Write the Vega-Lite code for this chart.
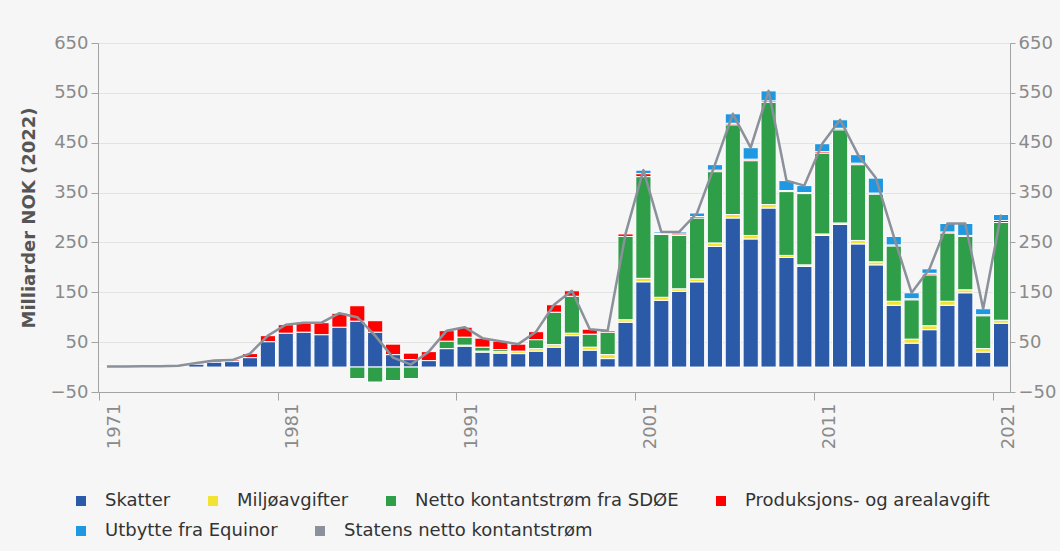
{
  "$schema": "https://vega.github.io/schema/vega-lite/v6.json",
  "width": 912,
  "height": 349,
  "autosize": {"type": "none"},
  "padding": {"left": 98, "top": 43, "right": 50, "bottom": 159},
  "background": "#f6f6f6",
  "config": {
    "view": {"stroke": null},
    "font": "DejaVu Sans",
    "axis": {
      "labelFont": "DejaVu Sans",
      "labelFontSize": 18,
      "labelColor": "#8a8a8a",
      "domainColor": "#a3a3a3",
      "tickColor": "#a3a3a3",
      "gridColor": "#e3e3e3",
      "titleFont": "DejaVu Sans"
    },
    "legend": {
      "labelFont": "DejaVu Sans",
      "title": null,
      "orient": "none",
      "direction": "horizontal",
      "symbolType": "square",
      "symbolSize": 100,
      "symbolStrokeWidth": 0,
      "symbolOpacity": 1,
      "labelFontSize": 18,
      "labelColor": "#333333",
      "labelOffset": 15,
      "labelLimit": 0,
      "columnPadding": 33,
      "padding": 0
    }
  },
  "data": {
    "values": [
      {"year": 1971, "Skatter": 0, "Miljøavgifter": 0, "Netto kontantstrøm fra SDØE": 0, "Produksjons- og arealavgift": 1, "Utbytte fra Equinor": 0},
      {"year": 1972, "Skatter": 0, "Miljøavgifter": 0, "Netto kontantstrøm fra SDØE": 0, "Produksjons- og arealavgift": 1, "Utbytte fra Equinor": 0},
      {"year": 1973, "Skatter": 0.5, "Miljøavgifter": 0, "Netto kontantstrøm fra SDØE": 0, "Produksjons- og arealavgift": 1, "Utbytte fra Equinor": 0},
      {"year": 1974, "Skatter": 0.5, "Miljøavgifter": 0, "Netto kontantstrøm fra SDØE": 0, "Produksjons- og arealavgift": 1, "Utbytte fra Equinor": 0},
      {"year": 1975, "Skatter": 1, "Miljøavgifter": 0, "Netto kontantstrøm fra SDØE": 0, "Produksjons- og arealavgift": 1.5, "Utbytte fra Equinor": 0},
      {"year": 1976, "Skatter": 6, "Miljøavgifter": 0, "Netto kontantstrøm fra SDØE": 0, "Produksjons- og arealavgift": 2, "Utbytte fra Equinor": 0},
      {"year": 1977, "Skatter": 10, "Miljøavgifter": 0, "Netto kontantstrøm fra SDØE": 0, "Produksjons- og arealavgift": 3, "Utbytte fra Equinor": 0},
      {"year": 1978, "Skatter": 11, "Miljøavgifter": 0, "Netto kontantstrøm fra SDØE": 0, "Produksjons- og arealavgift": 3, "Utbytte fra Equinor": 0},
      {"year": 1979, "Skatter": 19, "Miljøavgifter": 0, "Netto kontantstrøm fra SDØE": 0, "Produksjons- og arealavgift": 8, "Utbytte fra Equinor": 0},
      {"year": 1980, "Skatter": 51, "Miljøavgifter": 0, "Netto kontantstrøm fra SDØE": 0, "Produksjons- og arealavgift": 12, "Utbytte fra Equinor": 0},
      {"year": 1981, "Skatter": 68, "Miljøavgifter": 0, "Netto kontantstrøm fra SDØE": 0, "Produksjons- og arealavgift": 17, "Utbytte fra Equinor": 0},
      {"year": 1982, "Skatter": 70, "Miljøavgifter": 0, "Netto kontantstrøm fra SDØE": 0, "Produksjons- og arealavgift": 19, "Utbytte fra Equinor": 0},
      {"year": 1983, "Skatter": 65, "Miljøavgifter": 0, "Netto kontantstrøm fra SDØE": 0, "Produksjons- og arealavgift": 24, "Utbytte fra Equinor": 0},
      {"year": 1984, "Skatter": 80, "Miljøavgifter": 0, "Netto kontantstrøm fra SDØE": 0, "Produksjons- og arealavgift": 28, "Utbytte fra Equinor": 0},
      {"year": 1985, "Skatter": 92, "Miljøavgifter": 0, "Netto kontantstrøm fra SDØE": -23, "Produksjons- og arealavgift": 31, "Utbytte fra Equinor": 0},
      {"year": 1986, "Skatter": 70, "Miljøavgifter": 0, "Netto kontantstrøm fra SDØE": -30, "Produksjons- og arealavgift": 23, "Utbytte fra Equinor": 0},
      {"year": 1987, "Skatter": 25, "Miljøavgifter": 0, "Netto kontantstrøm fra SDØE": -27, "Produksjons- og arealavgift": 21, "Utbytte fra Equinor": 0},
      {"year": 1988, "Skatter": 15, "Miljøavgifter": 0, "Netto kontantstrøm fra SDØE": -23, "Produksjons- og arealavgift": 13, "Utbytte fra Equinor": 0},
      {"year": 1989, "Skatter": 13, "Miljøavgifter": 0, "Netto kontantstrøm fra SDØE": 0, "Produksjons- og arealavgift": 18, "Utbytte fra Equinor": 0},
      {"year": 1990, "Skatter": 37, "Miljøavgifter": 0, "Netto kontantstrøm fra SDØE": 15, "Produksjons- og arealavgift": 21, "Utbytte fra Equinor": 0},
      {"year": 1991, "Skatter": 42, "Miljøavgifter": 2, "Netto kontantstrøm fra SDØE": 16, "Produksjons- og arealavgift": 20, "Utbytte fra Equinor": 0},
      {"year": 1992, "Skatter": 30, "Miljøavgifter": 2, "Netto kontantstrøm fra SDØE": 8, "Produksjons- og arealavgift": 18, "Utbytte fra Equinor": 0},
      {"year": 1993, "Skatter": 28, "Miljøavgifter": 3, "Netto kontantstrøm fra SDØE": 4, "Produksjons- og arealavgift": 17, "Utbytte fra Equinor": 0},
      {"year": 1994, "Skatter": 27, "Miljøavgifter": 4, "Netto kontantstrøm fra SDØE": 1, "Produksjons- og arealavgift": 14, "Utbytte fra Equinor": 0},
      {"year": 1995, "Skatter": 32, "Miljøavgifter": 5, "Netto kontantstrøm fra SDØE": 18, "Produksjons- og arealavgift": 16, "Utbytte fra Equinor": 0},
      {"year": 1996, "Skatter": 40, "Miljøavgifter": 5, "Netto kontantstrøm fra SDØE": 65, "Produksjons- og arealavgift": 15, "Utbytte fra Equinor": 0},
      {"year": 1997, "Skatter": 63, "Miljøavgifter": 5, "Netto kontantstrøm fra SDØE": 74, "Produksjons- og arealavgift": 11, "Utbytte fra Equinor": 0},
      {"year": 1998, "Skatter": 34, "Miljøavgifter": 6, "Netto kontantstrøm fra SDØE": 26, "Produksjons- og arealavgift": 10, "Utbytte fra Equinor": 0},
      {"year": 1999, "Skatter": 17, "Miljøavgifter": 8, "Netto kontantstrøm fra SDØE": 45, "Produksjons- og arealavgift": 3, "Utbytte fra Equinor": 0},
      {"year": 2000, "Skatter": 90, "Miljøavgifter": 5, "Netto kontantstrøm fra SDØE": 167, "Produksjons- og arealavgift": 5, "Utbytte fra Equinor": 0},
      {"year": 2001, "Skatter": 171, "Miljøavgifter": 7, "Netto kontantstrøm fra SDØE": 204, "Produksjons- og arealavgift": 6, "Utbytte fra Equinor": 7},
      {"year": 2002, "Skatter": 134, "Miljøavgifter": 6, "Netto kontantstrøm fra SDØE": 126, "Produksjons- og arealavgift": 2, "Utbytte fra Equinor": 3},
      {"year": 2003, "Skatter": 152, "Miljøavgifter": 5, "Netto kontantstrøm fra SDØE": 107, "Produksjons- og arealavgift": 3, "Utbytte fra Equinor": 4},
      {"year": 2004, "Skatter": 171, "Miljøavgifter": 6, "Netto kontantstrøm fra SDØE": 122, "Produksjons- og arealavgift": 3, "Utbytte fra Equinor": 7},
      {"year": 2005, "Skatter": 242, "Miljøavgifter": 7, "Netto kontantstrøm fra SDØE": 143, "Produksjons- og arealavgift": 3, "Utbytte fra Equinor": 11},
      {"year": 2006, "Skatter": 299, "Miljøavgifter": 7, "Netto kontantstrøm fra SDØE": 180, "Produksjons- og arealavgift": 3, "Utbytte fra Equinor": 19},
      {"year": 2007, "Skatter": 257, "Miljøavgifter": 7, "Netto kontantstrøm fra SDØE": 150, "Produksjons- og arealavgift": 3, "Utbytte fra Equinor": 23},
      {"year": 2008, "Skatter": 319, "Miljøavgifter": 7, "Netto kontantstrøm fra SDØE": 205, "Produksjons- og arealavgift": 3, "Utbytte fra Equinor": 20},
      {"year": 2009, "Skatter": 220, "Miljøavgifter": 4, "Netto kontantstrøm fra SDØE": 128, "Produksjons- og arealavgift": 2, "Utbytte fra Equinor": 20},
      {"year": 2010, "Skatter": 202, "Miljøavgifter": 3, "Netto kontantstrøm fra SDØE": 143, "Produksjons- og arealavgift": 2, "Utbytte fra Equinor": 14},
      {"year": 2011, "Skatter": 264, "Miljøavgifter": 3, "Netto kontantstrøm fra SDØE": 162, "Produksjons- og arealavgift": 3, "Utbytte fra Equinor": 16},
      {"year": 2012, "Skatter": 286, "Miljøavgifter": 3, "Netto kontantstrøm fra SDØE": 187, "Produksjons- og arealavgift": 3, "Utbytte fra Equinor": 17},
      {"year": 2013, "Skatter": 247, "Miljøavgifter": 7, "Netto kontantstrøm fra SDØE": 152, "Produksjons- og arealavgift": 3, "Utbytte fra Equinor": 17},
      {"year": 2014, "Skatter": 205, "Miljøavgifter": 6, "Netto kontantstrøm fra SDØE": 136, "Produksjons- og arealavgift": 2, "Utbytte fra Equinor": 30},
      {"year": 2015, "Skatter": 124, "Miljøavgifter": 8, "Netto kontantstrøm fra SDØE": 111, "Produksjons- og arealavgift": 2, "Utbytte fra Equinor": 17},
      {"year": 2016, "Skatter": 48, "Miljøavgifter": 8, "Netto kontantstrøm fra SDØE": 79, "Produksjons- og arealavgift": 2, "Utbytte fra Equinor": 12},
      {"year": 2017, "Skatter": 75, "Miljøavgifter": 8, "Netto kontantstrøm fra SDØE": 102, "Produksjons- og arealavgift": 3, "Utbytte fra Equinor": 9},
      {"year": 2018, "Skatter": 124, "Miljøavgifter": 8, "Netto kontantstrøm fra SDØE": 137, "Produksjons- og arealavgift": 2, "Utbytte fra Equinor": 17},
      {"year": 2019, "Skatter": 149, "Miljøavgifter": 6, "Netto kontantstrøm fra SDØE": 107, "Produksjons- og arealavgift": 2, "Utbytte fra Equinor": 24},
      {"year": 2020, "Skatter": 30, "Miljøavgifter": 7, "Netto kontantstrøm fra SDØE": 66, "Produksjons- og arealavgift": 2, "Utbytte fra Equinor": 12},
      {"year": 2021, "Skatter": 88, "Miljøavgifter": 6, "Netto kontantstrøm fra SDØE": 196, "Produksjons- og arealavgift": 4, "Utbytte fra Equinor": 12}
    ]
  },
  "transform": [
    {"fold": ["Skatter", "Miljøavgifter", "Netto kontantstrøm fra SDØE", "Produksjons- og arealavgift", "Utbytte fra Equinor"], "as": ["serie", "value"]},
    {"window": [{"op": "row_number", "as": "stack_rank"}], "groupby": ["year"]},
    {"filter": "datum.value != 0"},
    {"stack": "value", "groupby": ["year"], "sort": [{"field": "stack_rank", "order": "ascending"}], "offset": "zero", "as": ["v0", "v1"]}
  ],
  "layer": [
    {
      "transform": [{"filter": "datum.serie !== 'Utbytte fra Equinor'"}],
      "mark": {"type": "bar", "stroke": "white", "strokeWidth": 1},
      "encoding": {
        "x": {
          "field": "year",
          "type": "ordinal",
          "scale": {"paddingInner": 0.15, "paddingOuter": 0.075},
          "axis": {
            "values": [1971, 1981, 1991, 2001, 2011, 2021],
            "title": null,
            "labelAngle": 270,
            "labelAlign": "right",
            "labelBaseline": "middle",
            "bandPosition": 0,
            "labelOffset": 7.6,
            "tickSize": 8,
            "labelPadding": 3,
            "grid": false
          }
        },
        "y": {
          "field": "v0",
          "type": "quantitative",
          "scale": {"domain": [-50, 650], "nice": false, "zero": false},
          "axis": {
            "values": [-50, 50, 150, 250, 350, 450, 550, 650],
            "title": "Milliarder NOK (2022)",
            "titleFontSize": 18,
            "titleFontWeight": "bold",
            "titleColor": "#555555",
            "titlePadding": 12,
            "tickSize": 7,
            "labelPadding": 3,
            "grid": true
          }
        },
        "y2": {"field": "v1"},
        "color": {
          "field": "serie",
          "type": "nominal",
          "scale": {
            "domain": ["Skatter", "Miljøavgifter", "Netto kontantstrøm fra SDØE", "Produksjons- og arealavgift"],
            "range": ["#2a5aa8", "#f2e232", "#2f9e48", "#ff0000"]
          },
          "legend": {"legendX": -26, "legendY": 449}
        }
      }
    },
    {
      "layer": [
        {
          "transform": [{"filter": "datum.serie === 'Utbytte fra Equinor'"}],
          "mark": {"type": "bar", "stroke": "white", "strokeWidth": 1},
          "encoding": {
            "x": {"field": "year", "type": "ordinal"},
            "y": {
              "field": "v0",
              "type": "quantitative",
              "scale": {"domain": [-50, 650], "nice": false, "zero": false},
              "axis": {
                "orient": "right",
                "values": [-50, 50, 150, 250, 350, 450, 550, 650],
                "title": null,
                "tickSize": 5,
                "labelPadding": 3,
                "grid": false
              }
            },
            "y2": {"field": "v1"},
            "color": {
              "field": "serie",
              "type": "nominal",
              "scale": {
                "domain": ["Utbytte fra Equinor", "Statens netto kontantstrøm"],
                "range": ["#1e98e2", "#8a919a"]
              },
              "legend": {"legendX": -26, "legendY": 479}
            }
          }
        },
        {
          "transform": [
            {"aggregate": [{"op": "sum", "field": "value", "as": "total"}], "groupby": ["year"]}
          ],
          "mark": {"type": "line", "strokeWidth": 2.5, "strokeJoin": "round"},
          "encoding": {
            "x": {"field": "year", "type": "ordinal"},
            "y": {
              "field": "total",
              "type": "quantitative",
              "scale": {"domain": [-50, 650], "nice": false, "zero": false},
              "axis": {
                "orient": "right",
                "values": [-50, 50, 150, 250, 350, 450, 550, 650],
                "title": null,
                "tickSize": 5,
                "labelPadding": 3,
                "grid": false
              }
            },
            "color": {"datum": "Statens netto kontantstrøm", "type": "nominal"}
          }
        }
      ]
    }
  ],
  "resolve": {"scale": {"color": "independent"}, "axis": {"y": "independent"}}
}
